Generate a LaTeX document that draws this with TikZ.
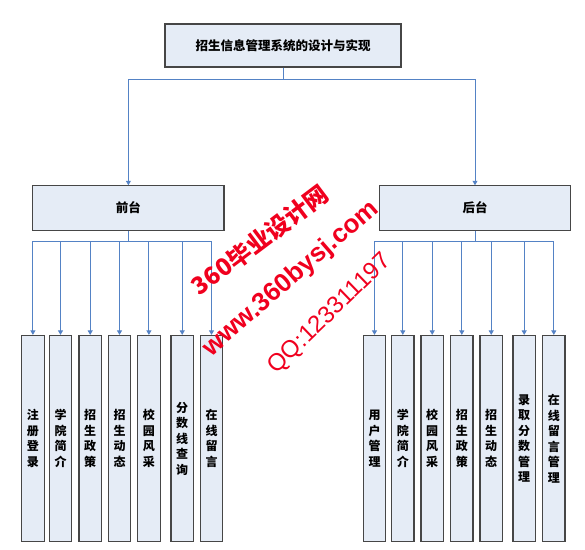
\documentclass[tikz,border=0pt]{standalone}
\usepackage{fontspec}
\setmainfont{Liberation Sans}
\newfontfamily\cjk{Noto Sans CJK SC}
\usetikzlibrary{arrows.meta}
\definecolor{boxfill}{RGB}{229,236,246}
\definecolor{boxline}{RGB}{70,70,70}
\definecolor{conn}{RGB}{84,130,197}
\definecolor{wm}{RGB}{240,0,30}
\begin{document}
\begin{tikzpicture}[x=1pt,y=-1pt,
  box/.style={draw=boxline,fill=boxfill,line width=1.2pt,inner sep=0pt,
    font=\cjk\bfseries\fontsize{12.5}{14}\selectfont},
  leaf/.style={box,minimum width=22.5pt,minimum height=206pt,align=center,
    font=\cjk\bfseries\fontsize{12}{15.5}\selectfont},
  link/.style={draw=conn,line width=0.9pt,-{Triangle[width=5pt,length=4.5pt]}},
  wmark/.style={text=wm,inner sep=0pt}]
\useasboundingbox (0,0) rectangle (585,549);
\node[box,minimum width=236pt,minimum height=43pt] (root) at (283,45.5) {招生信息管理系统的设计与实现};
\node[box,minimum width=191.3pt,minimum height=44.3pt] (front) at (128.4,208) {前台};
\node[box,minimum width=191.3pt,minimum height=44.3pt] (back) at (475,208) {后台};
\foreach \x/\n/\t in {
  32.9/f1/{注\\册\\登\\录},
  60.5/f2/{学\\院\\简\\介},
  90.2/f3/{招\\生\\政\\策},
  119.5/f4/{招\\生\\动\\态},
  148.9/f5/{校\\园\\风\\采},
  182.2/f6/{分\\数\\线\\查\\询},
  211.5/f7/{在\\线\\留\\言},
  374.5/b1/{用\\户\\管\\理},
  402.8/b2/{学\\院\\简\\介},
  432.2/b3/{校\\园\\风\\采},
  461.8/b4/{招\\生\\政\\策},
  491.2/b5/{招\\生\\动\\态},
  524.2/b6/{录\\取\\分\\数\\管\\理},
  553.8/b7/{在\\线\\留\\言\\管\\理}}
  \node[leaf] (\n) at (\x,438.5) {\t};
\draw[link] (root.south) -- ++(0,12) -| (front.north);
\draw[link] (root.south) -- ++(0,12) -| (back.north);
\foreach \n in {f1,f2,f3,f4,f5,f6,f7}
  \draw[link] (front.south) -- ++(0,11) -| (\n.north);
\foreach \n in {b1,b2,b3,b4,b5,b6,b7}
  \draw[link] (back.south) -- ++(0,11) -| (\n.north);
\node[wmark,rotate=37,font=\cjk\bfseries\fontsize{24}{24}\selectfont] (wm1) at (260,240) {360毕业设计网};
\node[wmark,rotate=41,font=\bfseries\fontsize{26}{26}\selectfont] (wm2) at (291,279) {www.360bysj.com};
\node[wmark,rotate=44,font=\fontsize{24}{24}\selectfont] (wm3) at (330,314) {QQ:123311197};
\end{tikzpicture}
\end{document}
